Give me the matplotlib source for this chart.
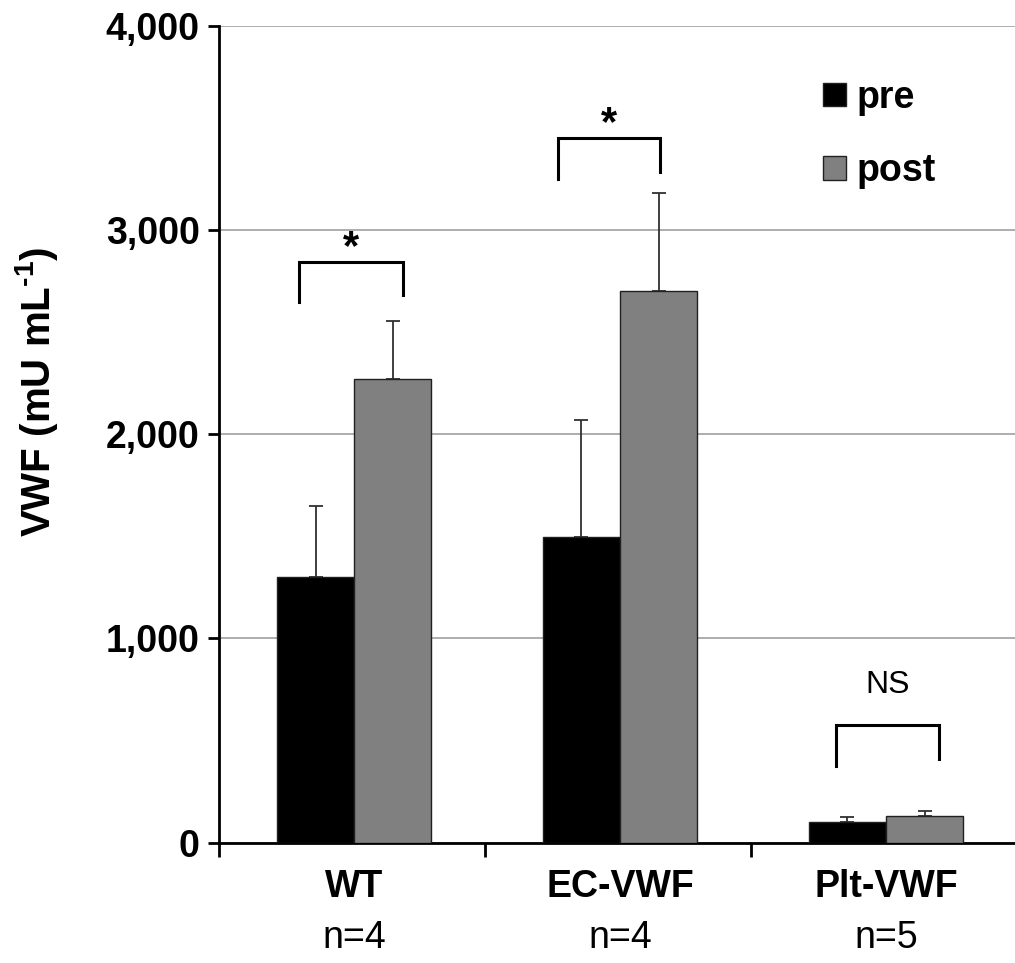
import numpy as np
import matplotlib.pyplot as plt

plt.rcParams['font.family'] = ['Liberation Sans', 'DejaVu Sans']
plt.rcParams['mathtext.fontset'] = 'custom'
plt.rcParams['mathtext.rm'] = 'Liberation Sans:bold'
plt.rcParams['mathtext.bf'] = 'Liberation Sans:bold'

groups = ['WT', 'EC-VWF', 'Plt-VWF']
n_labels = ['n=4', 'n=4', 'n=5']
pre = [1300, 1496, 100]
post = [2270, 2702, 130]
pre_err = [348, 573, 25]
post_err = [283, 480, 24]

# significance brackets: (left x, right x, top, left foot, right foot, label)
bracket_x = [(-0.2, 0.19), (0.774, 1.159), (1.82, 2.207)]
bracket_top = [2842, 3450, 575]
bracket_feet = [(2646, 2681), (3250, 3285), (375, 409)]
bracket_text = ['*', '*', 'NS']

fig = plt.figure(figsize=(10.15, 9.63), dpi=100)
ax = fig.add_axes([0.2158, 0.1251, 0.786, 0.8484])

x = np.arange(len(groups))
w = 0.29
off = 0.008
ax.bar(x - w / 2 + off, pre, w, color='black', edgecolor='#202020', linewidth=1,
       label='pre', zorder=3)
ax.bar(x + w / 2 + off, post, w, color='#808080', edgecolor='#202020', linewidth=1,
       label='post', zorder=3)
ax.errorbar(x - w / 2 + off, pre, yerr=[np.zeros(3), pre_err], fmt='none',
            ecolor='#303030', elinewidth=1.3, capsize=5, capthick=1.3, zorder=2)
ax.errorbar(x + w / 2 + off, post, yerr=[np.zeros(3), post_err], fmt='none',
            ecolor='#303030', elinewidth=1.3, capsize=5, capthick=1.3, zorder=2)

for (xl, xr), top, (fl, fr), t in zip(bracket_x, bracket_top, bracket_feet, bracket_text):
    ax.plot([xl, xl, xr, xr], [fl, top, top, fr], color='black', lw=2.2,
            solid_joinstyle='miter', zorder=4)
    if t == '*':
        ax.text((xl + xr) / 2, top - 30, t, ha='center', va='bottom',
                fontsize=30, fontweight='bold')
    else:
        ax.text((xl + xr) / 2, top + 195, t, ha='center', va='center', fontsize=23)

ax.set_xlim(-0.5, 2.5)
ax.set_ylim(0, 4000)
ax.set_yticks([0, 1000, 2000, 3000, 4000])
ax.set_yticklabels(['0', '1,000', '2,000', '3,000', '4,000'],
                   fontsize=27, fontweight='bold')
ax.yaxis.grid(True, color='#a0a0a0', lw=1.2)
ax.set_axisbelow(True)

ax.set_xticks([-0.5, 0.5, 1.5, 2.5])
ax.set_xticklabels([])
for xi, g, nl in zip(x, groups, n_labels):
    ax.text(xi + off, -0.0545, g, transform=ax.get_xaxis_transform(),
            ha='center', va='center', fontsize=27, fontweight='bold')
    ax.text(xi + off, -0.117, nl, transform=ax.get_xaxis_transform(),
            ha='center', va='center', fontsize=27)
ax.tick_params(axis='x', which='major', direction='out', length=10, width=2)
ax.tick_params(axis='y', direction='out', length=8, width=2, pad=6)

for s in ['top', 'right']:
    ax.spines[s].set_visible(False)
ax.spines['left'].set_linewidth(2)
ax.spines['bottom'].set_linewidth(2)

fig.text(0.036, 0.593, 'VWF (mU mL$^{\\text{-1}}$)', rotation=90, ha='center',
         va='center', fontsize=29, fontweight='bold')

leg = ax.legend(loc='upper left', bbox_to_anchor=(0.715, 0.975), frameon=False,
                handlelength=0.6, handleheight=0.6, handletextpad=0.3,
                labelspacing=1.0, prop={'weight': 'bold', 'size': 27})

fig.savefig('out.png', dpi=100)
